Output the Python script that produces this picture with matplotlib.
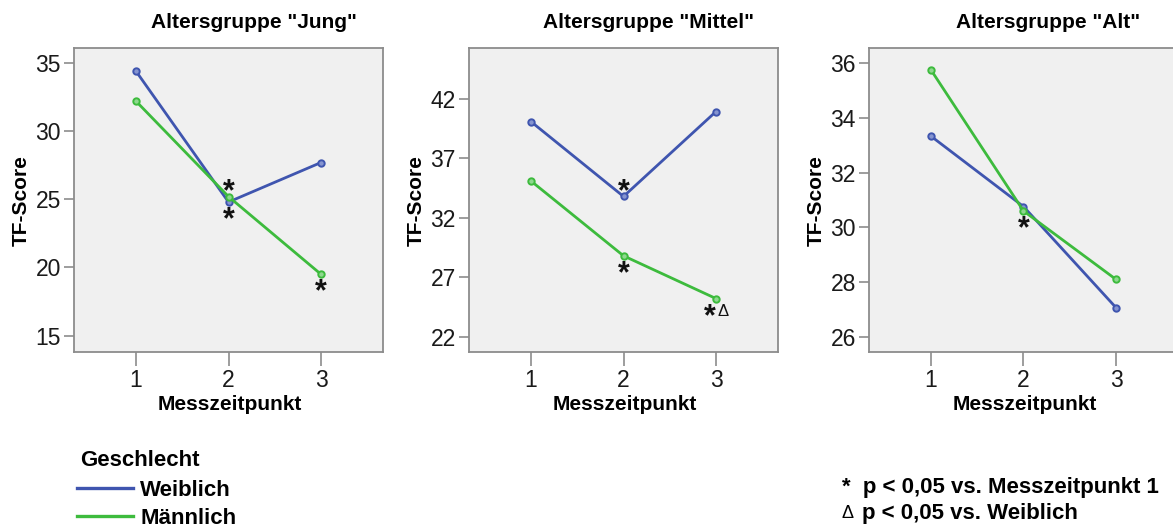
import matplotlib
matplotlib.use("Agg")
import matplotlib.pyplot as plt
from matplotlib.lines import Line2D

# ---------------- data ----------------
zeitpunkte = [1, 2, 3]
gruppen = ["Jung", "Mittel", "Alt"]
weiblich = {
    "Jung": [34.4, 24.8, 27.7],
    "Mittel": [40.1, 33.8, 40.95],
    "Alt": [33.33, 30.76, 27.07],
}
maennlich = {
    "Jung": [32.2, 25.2, 19.5],
    "Mittel": [35.1, 28.8, 25.2],
    "Alt": [35.75, 30.6, 28.1],
}
y_ticks = {
    "Jung": [15, 20, 25, 30, 35],
    "Mittel": [22, 27, 32, 37, 42],
    "Alt": [26, 28, 30, 32, 34, 36],
}
y_limits = {
    "Jung": (13.8, 36.1),
    "Mittel": (20.7, 46.3),
    "Alt": (25.45, 36.55),
}
# significance marks: (group, series, zeitpunkt, side, symbol)
signifikanz = [
    ("Jung", "M", 2, "above", "*"),
    ("Jung", "W", 2, "below", "*"),
    ("Jung", "M", 3, "below", "*"),
    ("Mittel", "W", 2, "above", "*"),
    ("Mittel", "M", 2, "below", "*"),
    ("Mittel", "M", 3, "below", "*Δ"),
    ("Alt", "M", 2, "below", "*"),
]
serien_namen = ["Weiblich", "Männlich"]

# ---------------- style ----------------
FONT = "Liberation Sans"
plt.rcParams["font.family"] = [FONT, "DejaVu Sans"]
BLUE = "#3F55AF"
GREEN = "#3DBB3D"
BLUE_FACE = "#8594D0"
GREEN_FACE = "#8ED88E"
BG = "#F0F0F0"
EDGE = "#8C8C8C"

W, H = 1173, 530
fig = plt.figure(figsize=(W / 100, H / 100), dpi=100)


def rect(l, t, r, b):
    return [l / W, 1 - b / H, (r - l) / W, (b - t) / H]


lefts = [74, 469, 869]
TOP, BOTTOM, WIDTH = 48, 352, 309
STAR_FS = 22

for g, left in zip(gruppen, lefts):
    ax = fig.add_axes(rect(left, TOP, left + WIDTH, BOTTOM))
    ax.set_facecolor(BG)
    for s in ax.spines.values():
        s.set_color(EDGE)
        s.set_linewidth(1.3)
    ax.plot(zeitpunkte, weiblich[g], color=BLUE, lw=2.0, marker="o", ms=4.6,
            mfc=BLUE_FACE, mec=BLUE, mew=1.4, zorder=3)
    ax.plot(zeitpunkte, maennlich[g], color=GREEN, lw=2.0, marker="o", ms=4.6,
            mfc=GREEN_FACE, mec=GREEN, mew=1.4, zorder=3)
    ax.set_xlim(0.33, 3.67)
    ax.set_ylim(*y_limits[g])
    ax.set_xticks(zeitpunkte)
    ax.set_yticks(y_ticks[g])
    ax.tick_params(axis="y", length=7, width=1.2, color=EDGE, pad=2.5,
                   labelsize=16.5)
    ax.tick_params(axis="x", length=10, width=1.2, color=EDGE, pad=2,
                   labelsize=16.5)
    for lab in ax.get_xticklabels() + ax.get_yticklabels():
        lab.set_color("#1A1A1A")

    # significance marks
    for (grp, ser, zp, side, sym) in signifikanz:
        if grp != g:
            continue
        vals = weiblich[g] if ser == "W" else maennlich[g]
        yv = vals[zeitpunkte.index(zp)]
        dy = 11 if side == "above" else -11.5
        # star glyph center relative to baseline
        base_off = dy - 0.58 * STAR_FS * 100 / 72 + 3
        if sym == "*":
            ax.annotate("*", (zp, yv), xytext=(0, base_off),
                        textcoords="offset pixels", ha="center", va="baseline",
                        fontsize=STAR_FS, fontweight="bold", color="#111111",
                        zorder=4)
        else:
            ax.annotate("*", (zp, yv), xytext=(-6, base_off),
                        textcoords="offset pixels", ha="center", va="baseline",
                        fontsize=STAR_FS, fontweight="bold", color="#111111",
                        zorder=4)
            ax.annotate("Δ", (zp, yv), xytext=(7, dy - 1), va="center",
                        textcoords="offset pixels", ha="center",
                        fontsize=12, color="#111111", zorder=4)

    cx = left + WIDTH / 2
    fig.text((cx + 25) / W, 1 - 22 / H, f'Altersgruppe "{g}"',
             ha="center", va="center", fontsize=15, fontweight="bold")
    fig.text((cx + 1) / W, 1 - 405 / H, "Messzeitpunkt", ha="center",
             va="center", fontsize=15, fontweight="bold")
    fig.text((left - 53) / W, 1 - 201 / H, "TF-Score", ha="center",
             va="center", rotation=90, fontsize=15, fontweight="bold")

# legend
fig.text(80 / W, 1 - 460 / H, "Geschlecht", ha="left", va="center",
         fontsize=16, fontweight="bold")
handles = [Line2D([], [], color=BLUE, lw=2.4),
           Line2D([], [], color=GREEN, lw=2.4)]
leg = fig.legend(handles, serien_namen,
                 loc="upper left", bbox_to_anchor=(77 / W, 1 - 480 / H),
                 frameon=False,
                 prop=dict(family=FONT, weight="bold", size=16),
                 handlelength=2.5, handletextpad=0.35, labelspacing=0.3,
                 borderpad=0, borderaxespad=0)

# footnote
fig.text(842 / W, 1 - 488 / H, "*  p < 0,05 vs. Messzeitpunkt 1", ha="left",
         va="center", fontsize=16, fontweight="bold")
fig.text(841 / W, 1 - 513 / H, "Δ", ha="left", va="center", fontsize=13)
fig.text(862 / W, 1 - 513 / H, "p < 0,05 vs. Weiblich", ha="left",
         va="center", fontsize=16, fontweight="bold")

fig.savefig("out.png", dpi=100)
